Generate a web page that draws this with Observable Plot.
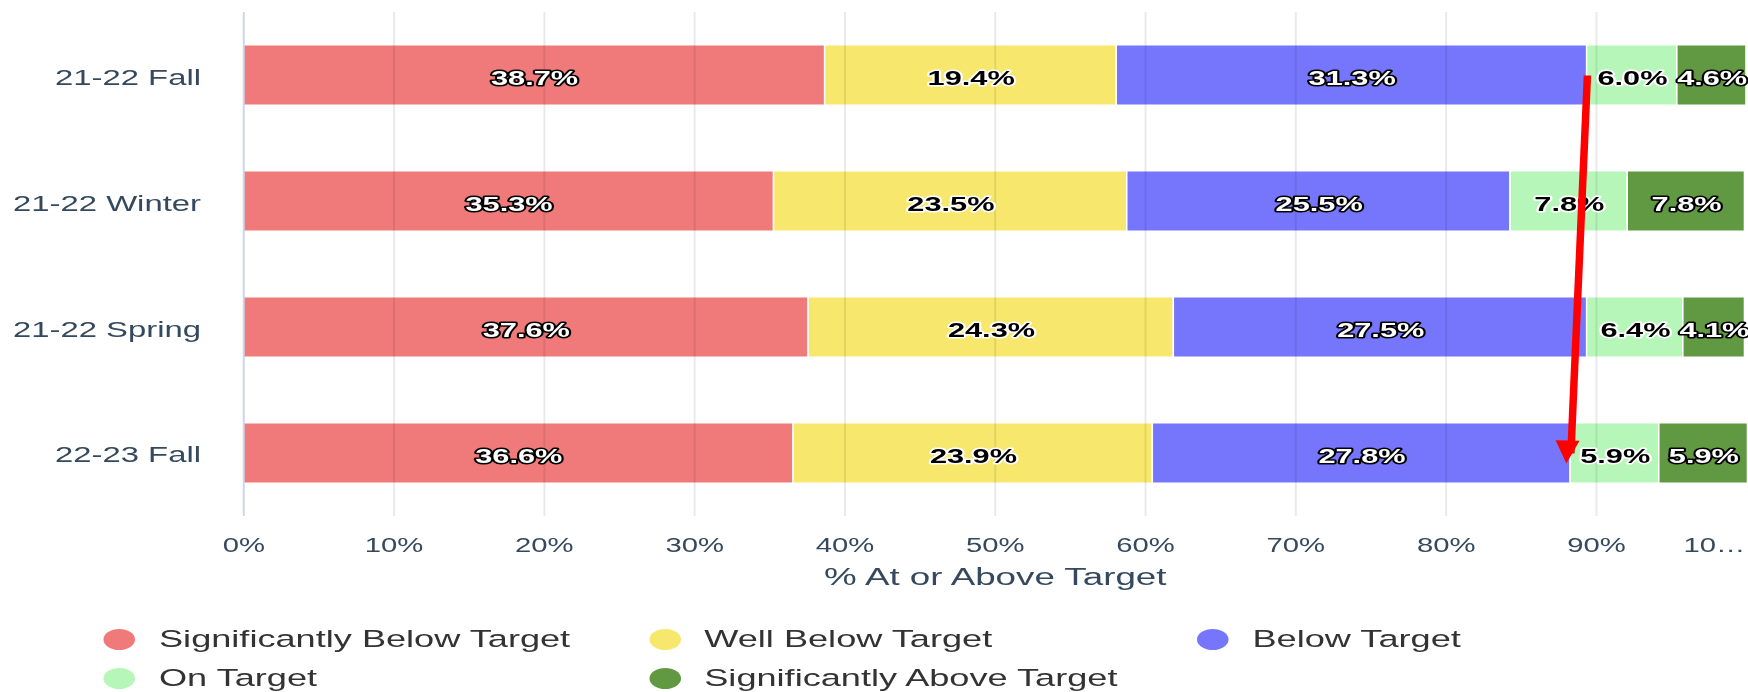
<!DOCTYPE html>
<html>
<head>
<meta charset="utf-8">
<script src="https://cdn.jsdelivr.net/npm/d3@7"></script>
<script src="https://cdn.jsdelivr.net/npm/@observablehq/plot@0.6"></script>
<style>
html, body { margin: 0; padding: 0; background: #fff; overflow: hidden; }
#wrap { position: relative; width: 1165.333px; height: 692px; transform: scaleX(1.5); transform-origin: 0 0;
        font-family: "Liberation Sans", Arial, Helvetica, sans-serif; }
#chart svg { display: block; }
#legend { position: absolute; left: 0; top: 600px; width: 1165.333px; height: 92px; }
.item { position: absolute; display: flex; align-items: center; height: 28px; font-size: 24.1px; color: #333; white-space: nowrap; }
.sw { width: 21px; height: 21px; border-radius: 50%; margin-right: 16px; flex: none; }
</style>
</head>
<body>
<div id="wrap">
  <div id="chart"></div>
  <div id="legend"></div>
</div>
<script>
// ---- data ----
const periods = ["21-22 Fall", "21-22 Winter", "21-22 Spring", "22-23 Fall"];
const levels = ["Significantly Below Target", "Well Below Target", "Below Target", "On Target", "Significantly Above Target"];
const levelColors = ["#f07979", "#f7e76c", "#7676fc", "#b6f7b9", "#619943"];
const sigBelow   = [38.7, 35.3, 37.6, 36.6];
const wellBelow  = [19.4, 23.5, 24.3, 23.9];
const below      = [31.3, 25.5, 27.5, 27.8];
const onTarget   = [6.0, 7.8, 6.4, 5.9];
const sigAbove   = [4.6, 7.8, 4.1, 5.9];
const xTicks = [0, 10, 20, 30, 40, 50, 60, 70, 80, 90, 100];
const xTickLabels = ["0%", "10%", "20%", "30%", "40%", "50%", "60%", "70%", "80%", "90%", "10…"];
const xTitle = "% At or Above Target";
const legendCols = 3;

// ---- build table ----
const series = [sigBelow, wellBelow, below, onTarget, sigAbove];
const rows = [];
levels.forEach((lv, li) => periods.forEach((p, pi) => rows.push({period: p, level: lv, li, value: series[li][pi]})));
const darkBg = new Set(["Significantly Below Target", "Below Target", "Significantly Above Target"]);
const fmt = v => v.toFixed(1) + "%";

// arrow: end of "Below Target" stack, first period -> last period
const belowEnd = pi => sigBelow[pi] + wellBelow[pi] + below[pi];
const arrowData = [{x1: belowEnd(0), y1: periods[0], x2: belowEnd(3), y2: periods[3]}];

const axisColor = "#34495e";

const chart = Plot.plot({
  width: 1165.333,
  height: 600,
  marginLeft: 162,
  marginRight: 1.333,
  marginTop: 12,
  marginBottom: 84,
  style: {fontFamily: "Liberation Sans, Arial, Helvetica, sans-serif", background: "transparent", overflow: "visible"},
  x: {domain: [0, 100]},
  y: {domain: periods, paddingInner: 0.524, paddingOuter: 0.262},
  color: {domain: levels, range: levelColors},
  marks: [
    Plot.barX(rows, Plot.stackX({x: "value", y: "period", fill: "level", stroke: "white", strokeWidth: 1})),
    Plot.ruleX(xTicks.filter(d => d > 0 && d < 100), {stroke: "#000", strokeOpacity: 0.085, strokeWidth: 1.3}),
    Plot.ruleX([0], {stroke: "#ccd6eb", strokeWidth: 1.3}),
    Plot.text(rows, Plot.stackX({
      x: "value", y: "period",
      text: d => darkBg.has(d.level) ? fmt(d.value) : null,
      fill: "white", stroke: "black", strokeWidth: 3, paintOrder: "stroke",
      fontWeight: "bold", fontSize: 20.5, lineAnchor: "middle", dy: 2.5
    })),
    Plot.text(rows, Plot.stackX({
      x: "value", y: "period",
      text: d => darkBg.has(d.level) ? null : fmt(d.value),
      fill: "black", stroke: "white", strokeWidth: 3, paintOrder: "stroke",
      fontWeight: "bold", fontSize: 20.5, lineAnchor: "middle", dy: 2.5
    })),
    Plot.axisY({tickSize: 0, tickPadding: 28.5, fontSize: 21.9, color: axisColor, label: null, dy: 2}),
    Plot.axisX(xTicks.filter(d => d < 100), {
      tickSize: 0, tickPadding: 22, fontSize: 19.5, color: axisColor, label: null,
      tickFormat: d => xTickLabels[xTicks.indexOf(d)]
    }),
    Plot.axisX([100], {
      tickSize: 0, tickPadding: 22, fontSize: 19.5, color: axisColor, label: null,
      textAnchor: "end", dx: -1,
      tickFormat: d => xTickLabels[xTicks.indexOf(d)]
    }),
    Plot.text([xTitle], {frameAnchor: "bottom", dy: 61, lineAnchor: "middle", fontSize: 24.5, fill: axisColor}),
    Plot.link(arrowData, {x1: "x1", y1: "y1", x2: "x2", y2: "y2", stroke: "#ff0000", strokeWidth: 5, strokeLinecap: "butt"}),
    Plot.vector(arrowData, {x: "x2", y: "y2", shape: "spike", anchor: "end", rotate: 182, length: 23, r: 8,
      fill: "#ff0000", stroke: "none", dx: -3, dy: 10})
  ]
});
document.getElementById("chart").appendChild(chart);

// ---- legend ----
const legend = document.getElementById("legend");
const colLeft = [69, 432.5, 798];
const rowTop = [25, 64];
levels.forEach((lv, i) => {
  const item = document.createElement("div");
  item.className = "item";
  item.style.left = colLeft[i % legendCols] + "px";
  item.style.top = rowTop[Math.floor(i / legendCols)] + "px";
  const sw = document.createElement("span");
  sw.className = "sw";
  sw.style.background = levelColors[i];
  const tx = document.createElement("span");
  tx.textContent = lv;
  item.appendChild(sw);
  item.appendChild(tx);
  legend.appendChild(item);
});
</script>
</body>
</html>
